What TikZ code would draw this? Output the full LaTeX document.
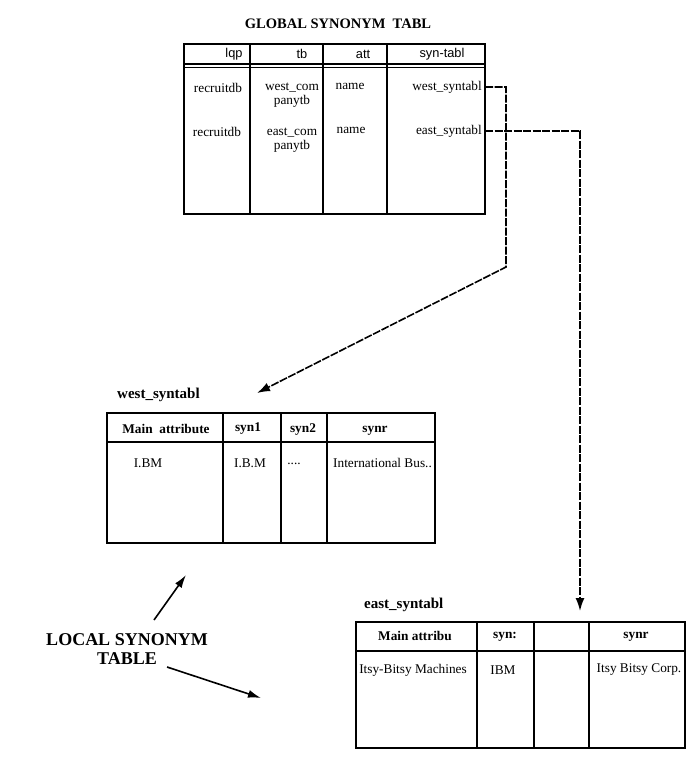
\documentclass[tikz,border=0pt]{standalone}
\usepackage{fontspec}
\setmainfont{Liberation Serif}
\newfontfamily\hdrsans{Liberation Sans}
\usetikzlibrary{positioning, arrows.meta}

\begin{document}
\begin{tikzpicture}[x=1pt, y=-1pt, font=\fontsize{13.3}{14.5}\selectfont,
    cell/.style={inner sep=0pt, align=center},
    hdr/.style={cell, font=\fontsize{13.3}{14.5}\selectfont\bfseries},
    ghdr/.style={cell, font=\fontsize{12.8}{14}\hdrsans},
    tname/.style={inner sep=0pt, anchor=west, font=\fontsize{15}{16}\selectfont\bfseries},
    frame/.style={line width=1.5pt},
    link/.style={line width=1.6pt, dash pattern=on 8pt off 1.5pt, -{Latex[length=13pt, width=9pt]}},
    pointer/.style={line width=1.6pt, -{Latex[length=13pt, width=8pt]}}]
    \useasboundingbox (0,0) rectangle (693,771);
    % global synonym table
    \node[font=\fontsize{14.5}{16}\selectfont\bfseries] (gtitle) at (338,24) {GLOBAL SYNONYM\ \ TABL};
    \draw[frame] (184,44) rectangle (485,214);
    \draw[frame] (184,64) -- (485,64);
    \draw[frame] (184,67.5) -- (485,67.5);
    \foreach \x in {250,323,387}
      \draw[frame] (\x,44) -- (\x,214);
    \node[ghdr] (glqp) at (234,54) {lqp};
    \node[ghdr] (gtb)  at (302,54) {tb};
    \node[ghdr] (gatt) at (363,54) {att};
    \node[ghdr] (gsyn) at (442,54) {syn-tabl};
    \node[cell] (gdb1) at (218,88) {recruitdb};
    \node[cell] (gdb2) at (217,132) {recruitdb};
    \node[cell] (gtb1) at (292,95) {west\_com\\panytb};
    \node[cell] (gtb2) at (292,140) {east\_com\\panytb};
    \node[cell] (gatt1) at (350,86) {name};
    \node[cell] (gatt2) at (351,130) {name};
    \node[cell, anchor=east] (wst) at (482,87) {west\_syntabl};
    \node[cell, anchor=east] (est) at (482,131) {east\_syntabl};

    % west local table
    \node[tname] (wtitle) at (117,395) {west\_syntabl};
    \draw[frame] (107,413) rectangle (435,543);
    \draw[line width=2.4pt] (107,442) -- (435,442);
    \foreach \x in {223,281,327}
      \draw[frame] (\x,413) -- (\x,543);
    \node[hdr] (wmain) at (166,429) {Main\ \ attribute};
    \node[hdr] (ws1) at (248,429) {syn1};
    \node[hdr] (ws2) at (303,430) {syn2};
    \node[hdr] (wsn) at (375,431) {synr};
    \node[cell] (wv1) at (148,463) {I.BM};
    \node[cell] (wv2) at (250,463) {I.B.M};
    \node[cell] (wv3) at (294,464) {....};
    \node[cell, anchor=west] (wv4) at (333,463) {International Bus..};

    % east local table
    \node[tname] (etitle) at (364,605) {east\_syntabl};
    \draw[frame] (356,622) rectangle (685,748);
    \draw[line width=2.4pt] (356,651) -- (685,651);
    \foreach \x in {477,534,589}
      \draw[frame] (\x,622) -- (\x,748);
    \node[hdr] (emain) at (415,636) {Main attribu};
    \node[hdr] (es1) at (505,637) {syn:};
    \node[hdr] (esn) at (636,637) {synr};
    \node[cell] (ev1) at (413,670) {Itsy-Bitsy Machines};
    \node[cell] (ev2) at (503,670) {IBM};
    \node[cell] (ev4) at (639,670) {Itsy Bitsy Corp.};

    % dashed links to the local tables
    \coordinate (wbend) at (506,267);
    \coordinate (wtip) at (257,393);
    \coordinate (etip) at (580,611);
    \draw[link] (wst.east) ++(3,0) -| (wbend) -- (wtip);
    \draw[link] (est.east) ++(3,0) -| (etip);

    % local synonym table label
    \node[font=\fontsize{18}{19}\selectfont\bfseries, align=center] (local) at (127,649) {LOCAL SYNONYM\\TABLE};
    \coordinate (uptip) at (186,575);
    \coordinate (downtip) at (261,698);
    \draw[pointer] (154,620) -- (uptip);
    \draw[pointer] (167,667) -- (downtip);
\end{tikzpicture}
\end{document}
